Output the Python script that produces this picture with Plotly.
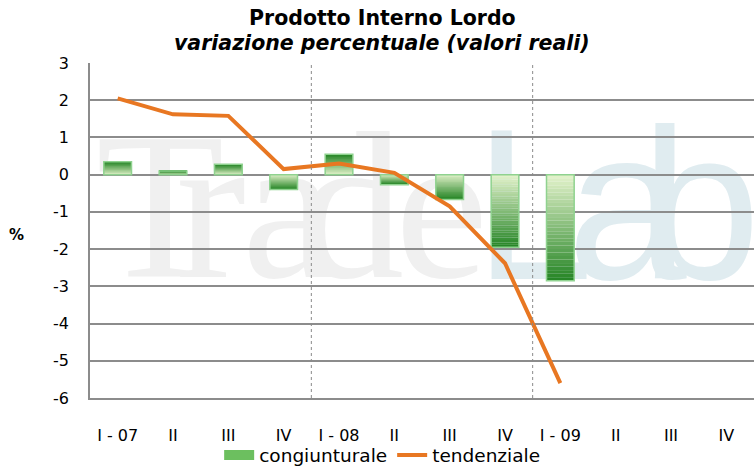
import plotly.graph_objects as go

categories = ["I - 07", "II", "III", "IV", "I - 08", "II", "III", "IV", "I - 09", "II", "III", "IV"]
congiunturale = [0.35, 0.1, 0.28, -0.4, 0.55, -0.27, -0.67, -1.95, -2.85]
tendenziale = [2.05, 1.62, 1.58, 0.15, 0.3, 0.05, -0.85, -2.38, -5.6]
y_ticks = [3, 2, 1, 0, -1, -2, -3, -4, -5, -6]

FONT = "DejaVu Sans"
light = (228, 243, 204)
dark = (36, 132, 36)
N = 30

xs = list(range(len(congiunturale)))
fig = go.Figure()

# gradient bars built as stacked slices from base (light) to value (dark)
for i in range(N):
    t = (i + 0.5) / N
    col = tuple(round(light[k] + (dark[k] - light[k]) * t) for k in range(3))
    fig.add_trace(go.Bar(
        x=xs,
        y=[v / N for v in congiunturale],
        base=[v * i / N for v in congiunturale],
        width=0.5,
        marker=dict(color="rgb(%d,%d,%d)" % col, line=dict(width=0)),
        showlegend=False,
        hoverinfo="skip",
    ))

# outline
fig.add_trace(go.Bar(
    x=xs, y=congiunturale, width=0.5, name="congiunturale",
    marker=dict(color="rgba(0,0,0,0)", line=dict(color="#8fd28f", width=1.5)),
    showlegend=False,
))
# legend entry (wide green swatch)
fig.add_trace(go.Scatter(
    x=[None], y=[None], name="congiunturale", mode="lines",
    line=dict(color="#6cbf5f", width=10),
))

fig.add_trace(go.Scatter(
    x=xs, y=tendenziale, mode="lines", name="tendenziale",
    line=dict(color="#e87722", width=4),
))

# dotted year separators
for xv in (3.5, 7.5):
    fig.add_shape(type="line", xref="x", yref="paper", x0=xv, x1=xv, y0=0, y1=1,
                  line=dict(color="#8a8a8a", width=1, dash="dot"), layer="above")

# watermark "TradeLab" (decorative, letter by letter)
wm = [("T", 0.0, "Liberation Serif", 210, "#f0f0f0", 0.643),
      ("r", 0.1205, "Liberation Serif", 210, "#f0f0f0", 0.643),
      ("a", 0.2199, "Liberation Serif", 210, "#f0f0f0", 0.643),
      ("d", 0.3057, "Liberation Serif", 210, "#f0f0f0", 0.643),
      ("e", 0.4503, "Liberation Serif", 210, "#f0f0f0", 0.643),
      ("L", 0.5693, "Liberation Sans", 215, "#e0ecf0", 0.636),
      ("a", 0.7093, "Liberation Sans", 215, "#e0ecf0", 0.636),
      ("b", 0.8208, "Liberation Sans", 215, "#e0ecf0", 0.636)]
for ch, x0, fam, sz, colr, yc in wm:
    fig.add_shape(type="rect", xref="paper", yref="paper", x0=x0, x1=x0 + 0.1, y0=yc - 0.1, y1=yc + 0.1,
                  line=dict(width=0), fillcolor="rgba(0,0,0,0)", layer="below",
                  label=dict(text=ch, font=dict(family=fam, size=sz, color=colr),
                             textposition="middle left"))

fig.add_annotation(text="<b>%</b>", xref="paper", yref="paper", x=-0.11, y=0.487,
                   xanchor="center", yanchor="middle", showarrow=False,
                   font=dict(family=FONT, size=15, color="#000"))

# title lines
fig.add_annotation(text="<b>Prodotto Interno Lordo</b>", xref="paper", yref="paper",
                   x=0.44, y=1.134, xanchor="center", yanchor="middle", showarrow=False,
                   font=dict(family=FONT, size=20.5, color="#000"))
fig.add_annotation(text="<b><i>variazione percentuale (valori reali)</i></b>", xref="paper", yref="paper",
                   x=0.44, y=1.06, xanchor="center", yanchor="middle", showarrow=False,
                   font=dict(family=FONT, size=20.5, color="#000"))

fig.update_layout(
    width=754, height=470,
    margin=dict(l=90, r=0, t=63, b=72, autoexpand=False),
    paper_bgcolor="white", plot_bgcolor="rgba(0,0,0,0)",
    barmode="overlay",
    font=dict(family=FONT, size=16, color="#000"),
    legend=dict(orientation="h", x=0.44, xanchor="center", y=-0.115, yanchor="top",
                font=dict(family=FONT, size=18.5), traceorder="normal",
                bgcolor="rgba(0,0,0,0)", tracegroupgap=0),
    xaxis=dict(range=[-0.5, 11.5], tickmode="array", tickvals=list(range(12)), ticktext=categories,
               showgrid=False, showline=True, linecolor="#8c8c8c", linewidth=1.5, automargin=False,
               ticks="outside", ticklen=22, tickcolor="rgba(0,0,0,0)", zeroline=False,
               tickfont=dict(family=FONT, size=16)),
    yaxis=dict(range=[-6, 3], tickmode="array", tickvals=y_ticks, ticktext=[str(v) for v in y_ticks],
               showgrid=True, gridcolor="#8c8c8c", gridwidth=1.5, showline=True, linecolor="#8c8c8c",
               linewidth=1.5, zeroline=False, ticks="outside", ticklen=16, tickcolor="rgba(0,0,0,0)",
               automargin=False, tickfont=dict(family=FONT, size=16)),
)

fig.write_html("out.html", config={"displayModeBar": False},
               post_script="document.body.style.margin='0';")
